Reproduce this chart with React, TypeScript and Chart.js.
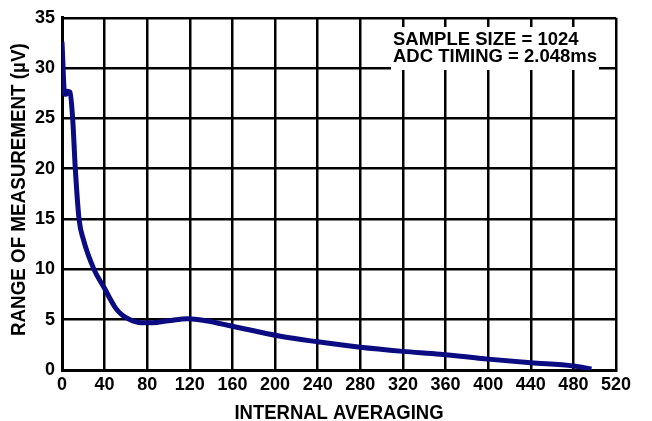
import React, { useEffect, useRef } from "react";
import { Chart, registerables } from "chart.js";

Chart.register(...registerables);

const averaging = [0, 2.5, 4, 5, 7.5, 10, 12.5, 16, 20, 30, 40, 45, 50, 56, 63, 74, 85, 100, 118, 135, 160, 205, 240, 280, 320, 355, 400, 440, 480, 497];
const rangeUV = [32.6, 27.4, 27.4, 27.7, 27.6, 25, 20, 15, 13, 10, 8.1, 7.1, 6.2, 5.5, 5.05, 4.7, 4.7, 4.9, 5.1, 4.9, 4.35, 3.35, 2.8, 2.25, 1.85, 1.57, 1.08, 0.72, 0.4, 0.1];
const annotationLines = ["SAMPLE SIZE = 1024", "ADC TIMING = 2.048ms"];
const xTitle = "INTERNAL AVERAGING";
const yTitle = "RANGE OF MEASUREMENT (µV)";

const FONT = "'Liberation Sans', Arial, Helvetica, sans-serif";

export default function App() {
  const ref = useRef<HTMLCanvasElement>(null);
  useEffect(() => {
    if (!ref.current) return;
    const texts = {
      id: "texts",
      afterDraw(chart: any) {
        const ctx = chart.ctx;
        const area = chart.chartArea;
        ctx.save();
        ctx.fillStyle = "#fff";
        ctx.fillRect(391, 27, 208, 43);
        ctx.fillStyle = "#000";
        ctx.font = `bold 18.5px ${FONT}`;
        ctx.textBaseline = "alphabetic";
        ctx.textAlign = "left";
        ctx.fillText(annotationLines[0], 393, 45);
        ctx.fillText(annotationLines[1], 393, 62);
        ctx.restore();

        // axis titles (condensed bold)
        ctx.save();
        ctx.fillStyle = "#000";
        ctx.font = `bold 21px ${FONT}`;
        ctx.textAlign = "center";
        ctx.textBaseline = "alphabetic";
        ctx.translate((area.left + area.right) / 2, 418.5);
        ctx.scale(0.88, 1);
        ctx.fillText(xTitle, 0, 0);
        ctx.restore();

        ctx.save();
        ctx.fillStyle = "#000";
        ctx.font = `bold 21px ${FONT}`;
        ctx.textAlign = "center";
        ctx.textBaseline = "alphabetic";
        ctx.translate(25, area.top + (area.bottom - area.top) * 0.488);
        ctx.rotate(-Math.PI / 2);
        ctx.scale(0.895, 1);
        ctx.fillText(yTitle, 0, 0);
        ctx.restore();
      },
    };
    const chart = new Chart(ref.current, {
      type: "line",
      data: {
        datasets: [
          {
            data: averaging.map((x, i) => ({ x, y: rangeUV[i] })),
            borderColor: "#0b0b82",
            borderWidth: 5,
            pointRadius: 0,
            cubicInterpolationMode: "monotone",
            fill: false,
          },
        ],
      },
      options: {
        animation: false,
        responsive: false,
        maintainAspectRatio: false,
        layout: { padding: { left: 0, right: 36, top: 15, bottom: 0 } },
        plugins: { legend: { display: false }, tooltip: { enabled: false } },
        scales: {
          x: {
            type: "linear",
            min: 0,
            max: 520,
            ticks: { stepSize: 40, color: "#000", font: { family: FONT, size: 18, weight: "bold" }, padding: 4, maxRotation: 0 },
            grid: { color: "#000", lineWidth: 2.5, drawTicks: false },
            border: { color: "#000", width: 3 },
            title: { display: false, text: xTitle },
            afterFit: (s: any) => { s.height = 51; },
          },
          y: {
            type: "linear",
            min: 0,
            max: 35,
            ticks: { stepSize: 5, color: "#000", font: { family: FONT, size: 18, weight: "bold" }, padding: 7 },
            grid: { color: "#000", lineWidth: 2.5, drawTicks: false },
            border: { color: "#000", width: 3 },
            title: { display: false, text: yTitle },
            afterFit: (s: any) => { s.width = 62; },
          },
        },
      },
      plugins: [texts],
    } as any);
    return () => chart.destroy();
  }, []);
  return (
    <div style={{ position: "absolute", left: 0, top: 0, width: 652, height: 421, background: "#fff" }}>
      <canvas ref={ref} width={652} height={421} style={{ width: 652, height: 421 }} />
    </div>
  );
}
